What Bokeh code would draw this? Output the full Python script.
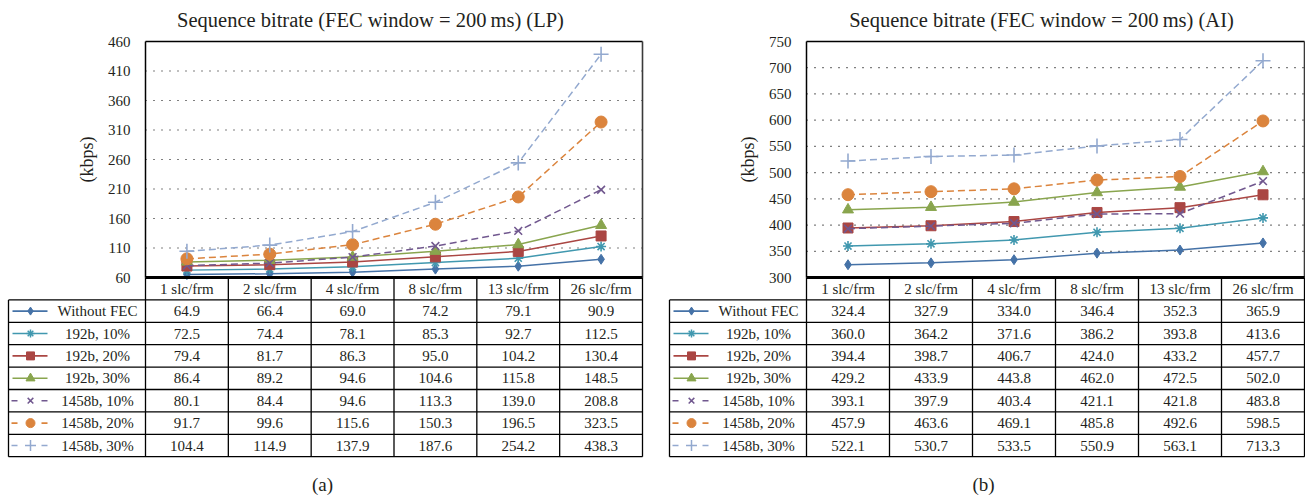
from bokeh.plotting import figure
from bokeh.layouts import row
from bokeh.models import Range1d, FixedTicker, LinearAxis
from bokeh.core.properties import value
from bokeh.embed import file_html
from bokeh.resources import INLINE

# ---------------- data ----------------
categories = ["1 slc/frm", "2 slc/frm", "4 slc/frm", "8 slc/frm", "13 slc/frm", "26 slc/frm"]
series_names = ["Without FEC", "192b, 10%", "192b, 20%", "192b, 30%",
                "1458b, 10%", "1458b, 20%", "1458b, 30%"]

lp_without_fec = [64.9, 66.4, 69.0, 74.2, 79.1, 90.9]
lp_192b_10 = [72.5, 74.4, 78.1, 85.3, 92.7, 112.5]
lp_192b_20 = [79.4, 81.7, 86.3, 95.0, 104.2, 130.4]
lp_192b_30 = [86.4, 89.2, 94.6, 104.6, 115.8, 148.5]
lp_1458b_10 = [80.1, 84.4, 94.6, 113.3, 139.0, 208.8]
lp_1458b_20 = [91.7, 99.6, 115.6, 150.3, 196.5, 323.5]
lp_1458b_30 = [104.4, 114.9, 137.9, 187.6, 254.2, 438.3]

ai_without_fec = [324.4, 327.9, 334.0, 346.4, 352.3, 365.9]
ai_192b_10 = [360.0, 364.2, 371.6, 386.2, 393.8, 413.6]
ai_192b_20 = [394.4, 398.7, 406.7, 424.0, 433.2, 457.7]
ai_192b_30 = [429.2, 433.9, 443.8, 462.0, 472.5, 502.0]
ai_1458b_10 = [393.1, 397.9, 403.4, 421.1, 421.8, 483.8]
ai_1458b_20 = [457.9, 463.6, 469.1, 485.8, 492.6, 598.5]
ai_1458b_30 = [522.1, 530.7, 533.5, 550.9, 563.1, 713.3]

lp_ticks = [60, 110, 160, 210, 260, 310, 360, 410, 460]
ai_ticks = [300, 350, 400, 450, 500, 550, 600, 650, 700, 750]

lp_title = "Sequence bitrate (FEC window = 200\u2009ms) (LP)"
ai_title = "Sequence bitrate (FEC window = 200\u2009ms) (AI)"
y_label = "(kbps)"

# ---------------- styles ----------------
colors = ["#4572A7", "#4198AF", "#AA4643", "#89A54E", "#71588F", "#DB843D", "#93A9CF"]
markers = ["diamond", "asterisk", "square", "triangle", "x", "circle", "cross"]
msizes = [10, 10, 10, 11, 11, 12, 15]
key_sizes = [8, 8, 8, 9, 8, 9, 11]
dashed = [False, False, False, False, True, True, True]
FONT = "Liberation Serif"
TXT = "#231F20"

H = 495            # figure height (px)
PLOT_TOP = 41      # plot-area top (px from figure top)
PLOT_BOT = 277     # plot-area bottom
ROW_H = 22.4       # table row height
LABEL_W = 137      # width of the table's series-name column


def build_panel(title, ticks, values, tag, L, FL, FR, R, title_cx):
    n = len(categories)
    nr = len(series_names)
    s = (FR - FL) / n
    xs = list(range(n))

    x0 = -0.5 - (FL - L) / s
    x1 = n - 0.5 + (R - FR) / s

    def px(page_x):
        return x0 + (page_x - L) / s

    # table coordinates (rows, top to bottom)
    ty_bot = -0.5 + (H - PLOT_BOT) / ROW_H
    ty_top = -0.5 - PLOT_BOT / ROW_H
    # chart coordinates
    u = (ticks[-1] - ticks[0]) / (PLOT_BOT - PLOT_TOP)
    cy_bot = ticks[0] - (H - PLOT_BOT) * u
    cy_top = ticks[-1] + PLOT_TOP * u

    p = figure(width=R - L, height=H, x_range=Range1d(x0, x1), y_range=Range1d(ty_bot, ty_top),
               x_axis_location=None, y_axis_location=None, min_border=0,
               output_backend="svg", toolbar_location=None)
    p.outline_line_color = None
    p.xgrid.visible = False
    p.ygrid.visible = False
    p.extra_y_ranges = {"chart": Range1d(cy_bot, cy_top)}

    # ---- chart y axis (real axis, drawn at the plot-area's left edge)
    ax = LinearAxis(y_range_name="chart", fixed_location=-0.5, bounds=(ticks[0], ticks[-1]),
                    ticker=FixedTicker(ticks=ticks))
    ax.major_tick_line_color = None
    ax.minor_tick_line_color = None
    ax.major_tick_out = 0
    ax.axis_line_color = "black"
    ax.axis_line_width = 1.5
    ax.major_label_standoff = 15
    ax.major_label_text_font = FONT
    ax.major_label_text_font_size = "15px"
    ax.major_label_text_color = TXT
    ax.axis_label = y_label
    ax.axis_label_text_font = FONT
    ax.axis_label_text_font_size = "18px"
    ax.axis_label_text_font_style = "normal"
    ax.axis_label_text_color = TXT
    ax.axis_label_standoff = 8
    p.add_layout(ax, "left")

    # ---- plot-area frame and dotted gridlines
    gt = ticks[1:-1]
    p.segment([-0.5] * len(gt), gt, [n - 0.5] * len(gt), gt, y_range_name="chart",
              line_color="black", line_width=1.2, line_dash="1 7")
    p.segment([-0.5], [ticks[-1]], [n - 0.5], [ticks[-1]], y_range_name="chart",
              line_color="black", line_width=1.6)
    p.segment([n - 0.5], [ticks[0]], [n - 0.5], [ticks[-1]], y_range_name="chart",
              line_color="#3a3a3a", line_width=1.6)

    # ---- title
    p.text([px(title_cx)], [ticks[-1] + (PLOT_TOP - 19) * u], text=[title], y_range_name="chart",
           text_font=value(FONT), text_font_size="20.5px", text_color=TXT,
           text_align="center", text_baseline="middle")

    # ---- series
    for i, vals in enumerate(values):
        p.line(xs, vals, y_range_name="chart", line_color=colors[i], line_width=1.5,
               line_dash="7 4" if dashed[i] else "solid")
        p.scatter(xs, vals, y_range_name="chart", marker=markers[i], size=msizes[i],
                  fill_color=colors[i], line_color=colors[i],
                  line_width=1.6 if markers[i] in ("asterisk", "x", "cross") else 1)

    # ---- data table
    xl = px(FL - LABEL_W)
    hy = [k + 0.5 for k in range(nr + 1)]
    p.segment([xl] * len(hy), hy, [n - 0.5] * len(hy), hy, line_color="black", line_width=1.3)
    vx = [k - 0.5 for k in range(n + 1)]
    p.segment(vx, [-0.5] * len(vx), vx, [nr + 0.5] * len(vx), line_color="black", line_width=1.3)
    p.segment([xl], [0.5], [xl], [nr + 0.5], line_color="black", line_width=1.3)
    # thick category-axis line (bottom of plot area)
    p.segment([-0.5], [-0.5], [n - 0.5], [-0.5], line_color="black", line_width=3)

    p.text(xs, [0] * n, text=categories, text_font=value(FONT), text_font_size="15px",
           text_color=TXT, text_align="center", text_baseline="middle")
    for i, vals in enumerate(values):
        p.text(xs, [i + 1] * n, text=["%.1f" % v for v in vals], text_font=value(FONT),
               text_font_size="15px", text_color=TXT, text_align="center", text_baseline="middle")

    ry = [i + 1 for i in range(nr)]
    p.text([px(FL - 48)] * nr, ry, text=series_names, text_font=value(FONT), text_font_size="15px",
           text_color=TXT, text_align="center", text_baseline="middle")
    for i in range(nr):
        yk = i + 1
        if dashed[i]:
            p.segment([px(FL - 134), px(FL - 104)], [yk, yk], [px(FL - 128), px(FL - 98)], [yk, yk],
                      line_color=colors[i], line_width=1.6)
        else:
            p.segment([px(FL - 133)], [yk], [px(FL - 98)], [yk], line_color=colors[i], line_width=1.6)
        p.scatter([px(FL - 115)], [yk], marker=markers[i], size=key_sizes[i],
                  fill_color=colors[i], line_color=colors[i],
                  line_width=1.5 if markers[i] in ("asterisk", "x", "cross") else 1)

    # ---- panel tag
    p.text([px(FL + 177)], [-0.5 + (484 - PLOT_BOT) / ROW_H], text=[tag], text_font=value(FONT),
           text_font_size="19px", text_color=TXT, text_align="center", text_baseline="middle")
    return p


lp_values = [lp_without_fec, lp_192b_10, lp_192b_20, lp_192b_30, lp_1458b_10, lp_1458b_20, lp_1458b_30]
ai_values = [ai_without_fec, ai_192b_10, ai_192b_20, ai_192b_30, ai_1458b_10, ai_1458b_20, ai_1458b_30]

panel_a = build_panel(lp_title, lp_ticks, lp_values, "(a)", 0, 145, 642, 667, 370)
panel_b = build_panel(ai_title, ai_ticks, ai_values, "(b)", 667, 806, 1304, 1305, 1041)

p = row(panel_a, panel_b, spacing=0)

open("out.html", "w").write(file_html(p, INLINE))
